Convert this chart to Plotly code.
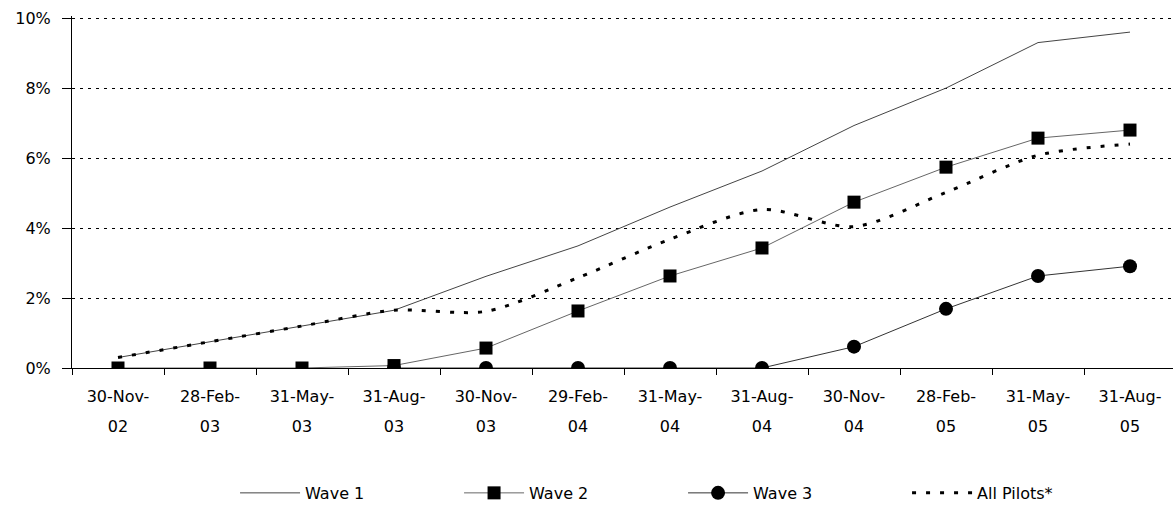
import plotly.graph_objects as go

dates = ["30-Nov-02", "28-Feb-03", "31-May-03", "31-Aug-03", "30-Nov-03", "29-Feb-04",
         "31-May-04", "31-Aug-04", "30-Nov-04", "28-Feb-05", "31-May-05", "31-Aug-05"]
label_top = ["30-Nov-", "28-Feb-", "31-May-", "31-Aug-", "30-Nov-", "29-Feb-",
             "31-May-", "31-Aug-", "30-Nov-", "28-Feb-", "31-May-", "31-Aug-"]
label_year = ["02", "03", "03", "03", "03", "04", "04", "04", "04", "05", "05", "05"]

wave1 = [0.30, 0.75, 1.20, 1.65, 2.62, 3.49, 4.60, 5.63, 6.93, 8.00, 9.30, 9.60]
wave2 = [0.0, 0.0, 0.0, 0.07, 0.57, 1.63, 2.63, 3.43, 4.74, 5.74, 6.57, 6.80]
wave3 = [None, None, None, 0.0, 0.0, 0.0, 0.0, 0.0, 0.61, 1.69, 2.63, 2.91]
all_pilots = [0.30, 0.75, 1.20, 1.65, 1.62, 2.58, 3.68, 4.53, 4.04, 5.02, 6.08, 6.40]

y_ticks = [0, 2, 4, 6, 8, 10]
y_ticktext = [f"{v}%" for v in y_ticks]

xi = list(range(len(dates)))
FONT = "DejaVu Sans"

fig = go.Figure()
fig.add_trace(go.Scatter(x=xi, y=wave1, name="Wave 1", mode="lines",
                         line=dict(color="#444444", width=1)))
fig.add_trace(go.Scatter(x=xi, y=wave2, name="Wave 2", mode="lines+markers",
                         line=dict(color="#666666", width=1),
                         marker=dict(symbol="square", size=13, color="black")))
fig.add_trace(go.Scatter(x=xi, y=wave3, name="Wave 3", mode="lines+markers",
                         line=dict(color="#333333", width=1),
                         marker=dict(symbol="circle", size=14, color="black")))
fig.add_trace(go.Scatter(x=xi, y=all_pilots, name="All Pilots*", mode="lines",
                         line=dict(color="black", width=3, dash="4px,10px",
                                   shape="spline", smoothing=0.8)))

xr = [-0.5, -0.5 + (1173 - 72) / 92.0]

fig.update_layout(
    width=1173, height=513,
    margin=dict(l=72, r=0, t=16, b=145),
    paper_bgcolor="white", plot_bgcolor="white",
    font=dict(family=FONT, size=16, color="black"),
    showlegend=True,
    legend=dict(orientation="h", x=0.555, xanchor="center", y=-0.355, yanchor="middle",
                font=dict(family=FONT, size=16, color="black"),
                entrywidth=149, entrywidthmode="pixels", itemwidth=60,
                bgcolor="rgba(0,0,0,0)"),
    xaxis=dict(
        range=xr, tickmode="array", tickvals=xi, ticktext=label_top,
        ticks="", showgrid=False, zeroline=False,
        showline=True, linecolor="black", linewidth=1,
        ticklabelstandoff=14,
        minor=dict(tickmode="array", tickvals=[i - 0.5 for i in range(len(dates) + 1)],
                   ticks="outside", ticklen=6, tickcolor="black", tickwidth=1,
                   showgrid=False),
        tickfont=dict(family=FONT, size=16, color="black"),
    ),
    xaxis2=dict(
        overlaying="x", anchor="y", side="bottom", matches="x",
        range=xr, tickmode="array", tickvals=xi, ticktext=label_year,
        ticks="", showgrid=False, zeroline=False, showline=False,
        ticklabelstandoff=47,
        tickfont=dict(family=FONT, size=16, color="black"),
    ),
    yaxis=dict(
        range=[0, 10.06], tickmode="array", tickvals=y_ticks, ticktext=y_ticktext,
        ticks="outside", ticklen=9, tickcolor="black",
        showline=True, linecolor="black", linewidth=1,
        showgrid=True, gridcolor="black", gridwidth=1, griddash="3px,5px",
        zeroline=False, ticklabelstandoff=8,
        tickfont=dict(family=FONT, size=16, color="black"),
    ),
)

# invisible trace to activate xaxis2
fig.add_trace(go.Scatter(x=[xi[0]], y=[None], xaxis="x2", showlegend=False,
                         hoverinfo="skip", mode="markers"))

fig.write_html("out.html")
